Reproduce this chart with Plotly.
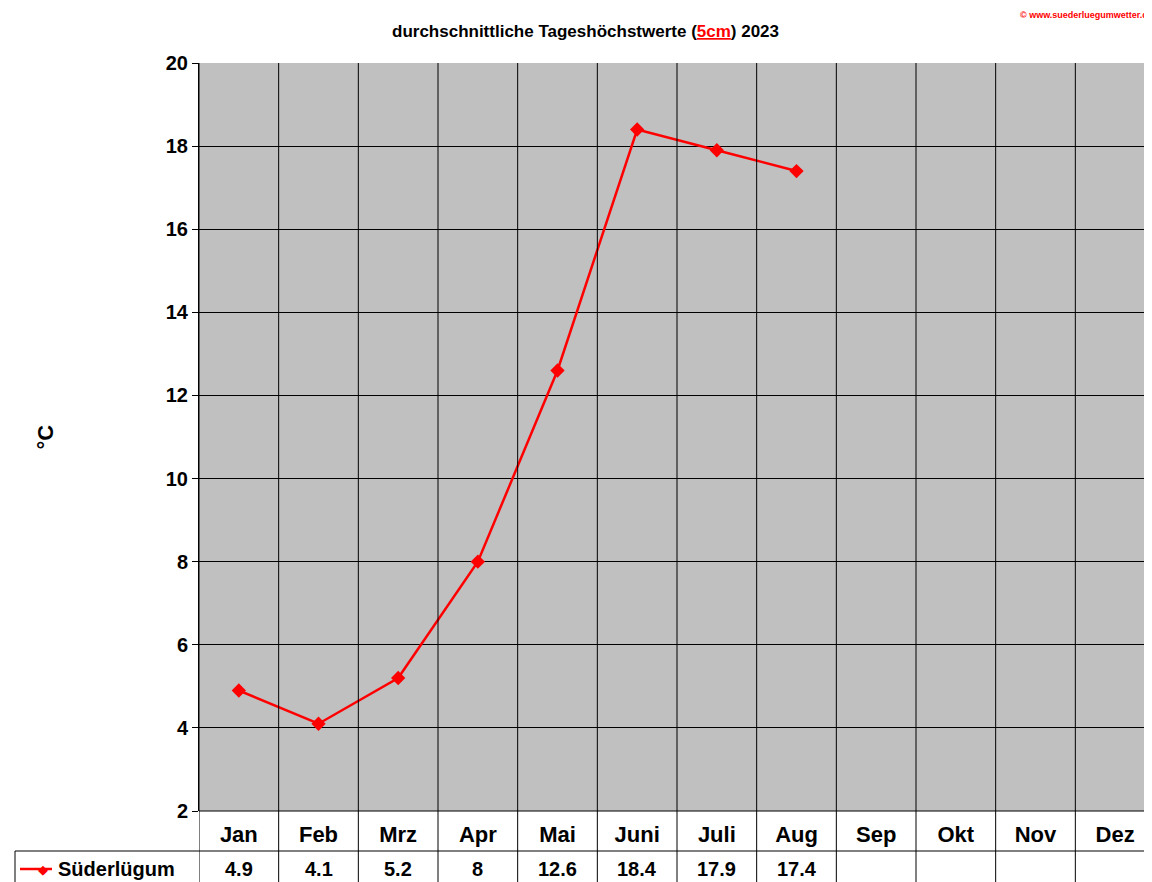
import plotly.graph_objects as go

months = ['Jan', 'Feb', 'Mrz', 'Apr', 'Mai', 'Juni', 'Juli', 'Aug', 'Sep', 'Okt', 'Nov', 'Dez']
values = [4.9, 4.1, 5.2, 8, 12.6, 18.4, 17.9, 17.4, None, None, None, None]
table_text = ['4.9', '4.1', '5.2', '8', '12.6', '18.4', '17.9', '17.4', '', '', '', '']
series_name = 'Süderlügum'

FONT = 'Liberation Sans, Arial, sans-serif'
PW = 956  # plot width px
PH = 748  # plot height px


def py(pix):  # pixel offset below the plot bottom -> paper y
    return -pix / PH


def px(pix):  # pixel offset left of the plot -> paper x
    return -pix / PW


fig = go.Figure()
fig.add_trace(go.Scatter(
    x=list(range(12)), y=values, mode='lines+markers',
    line=dict(color='#ff0000', width=2.5),
    marker=dict(symbol='diamond', size=11, color='#ff0000'),
    name=series_name, showlegend=False, connectgaps=False,
))

shapes = []
# vertical grid lines through chart and table
for i in range(13):
    shapes.append(dict(type='line', xref='x', yref='paper', x0=i - 0.5, x1=i - 0.5,
                       y0=py(74), y1=1, line=dict(color='black', width=1)))
# table horizontal lines
for yy in (0, py(40), py(74)):
    shapes.append(dict(type='line', xref='paper', yref='paper',
                       x0=px(184) if yy != 0 else 0, x1=1, y0=yy, y1=yy,
                       line=dict(color='black', width=1)))
shapes.append(dict(type='line', xref='paper', yref='paper', x0=px(184), x1=px(184),
                   y0=py(40), y1=py(74), line=dict(color='black', width=1)))
shapes.append(dict(type='line', xref='paper', yref='paper', x0=1, x1=1,
                   y0=py(74), y1=1, line=dict(color='black', width=1)))
# legend key line in the table
shapes.append(dict(type='line', xref='paper', yref='paper', x0=px(179), x1=px(147),
                   y0=py(58), y1=py(58), line=dict(color='#ff0000', width=2.5)))

annotations = []
for i, t in enumerate(table_text):
    annotations.append(dict(x=i, y=py(58), xref='x', yref='paper', text=t, showarrow=False,
                            yanchor='middle',
                            font=dict(family=FONT, size=20, color='black', weight='bold')))
annotations.append(dict(x=px(163), y=py(58), xref='paper', yref='paper', text='◆',
                        yanchor='middle', showarrow=False, font=dict(size=13, color='#ff0000')))
annotations.append(dict(x=px(143), y=py(58), xref='paper', yref='paper', text=series_name,
                        xanchor='left', yanchor='middle', showarrow=False,
                        font=dict(family=FONT, size=20, color='black', weight='bold')))
annotations.append(dict(x=px(169), y=0.5, xref='paper', yref='paper', text='°C', textangle=-90,
                        showarrow=False, font=dict(family=FONT, size=22, color='black', weight='bold')))
annotations.append(dict(x=(577 - 191) / PW, y=1 + 32 / PH, xref='paper', yref='paper',
                        text='durchschnittliche Tageshöchstwerte (<span style="color:#ff0000"><u>5cm</u></span>) 2023',
                        showarrow=False, xanchor='center', yanchor='middle',
                        font=dict(family=FONT, size=17, color='black', weight='bold')))
annotations.append(dict(x=1.0, y=1 + 48 / PH, xref='paper', yref='paper', xanchor='right',
                        yanchor='middle', text='© www.suederluegumwetter.de', showarrow=False,
                        font=dict(family=FONT, size=9, color='#ff0000', weight='bold')))

fig.update_layout(
    width=1152, height=882,
    margin=dict(l=191, r=5, t=55, b=79, autoexpand=False),
    paper_bgcolor='white', plot_bgcolor='#c0c0c0',
    shapes=shapes, annotations=annotations,
    font=dict(family=FONT, color='black'),
)
fig.update_xaxes(range=[-0.5, 11.5], tickmode='array', tickvals=list(range(12)), ticktext=months,
                 showgrid=False, zeroline=False, ticks='', ticklabelstandoff=8, automargin=False,
                 tickfont=dict(family=FONT, size=22, color='black', weight='bold'))
fig.update_yaxes(range=[2, 20], dtick=2, showgrid=True, gridcolor='black', gridwidth=1,
                 zeroline=False, ticks='outside', ticklen=6, tickcolor='black', automargin=False,
                 showline=True, linecolor='black', mirror=True,
                 tickfont=dict(family=FONT, size=20, color='black', weight='bold'))

fig.write_html('out.html')
